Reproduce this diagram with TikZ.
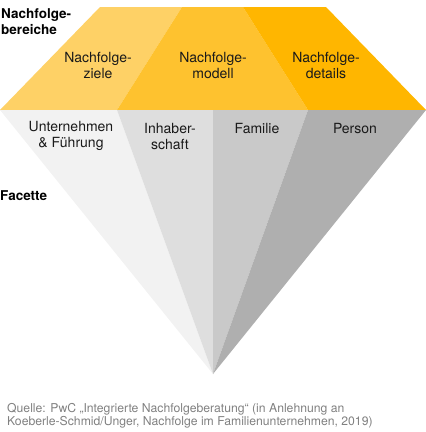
\documentclass[tikz,border=0pt]{standalone}
\usepackage{fontspec}
\setmainfont{TeX Gyre Heros}
\usepackage{xcolor}
\usepackage{tikz}
\usetikzlibrary{positioning}

\definecolor{crownA}{HTML}{FED166}
\definecolor{crownB}{HTML}{FEC22F}
\definecolor{crownC}{HTML}{FFB600}
\definecolor{paviA}{HTML}{F2F2F2}
\definecolor{paviB}{HTML}{DEDEDE}
\definecolor{paviC}{HTML}{C9C9C9}
\definecolor{paviD}{HTML}{AFAFAF}
\definecolor{txt}{HTML}{1A1A1A}
\definecolor{src}{HTML}{808080}

\tikzset{
	facet/.style={inner sep=0pt, align=center, text=txt, font=\fontsize{14}{16}\selectfont},
	head/.style={inner sep=0pt, align=left, anchor=west, text=black, font=\fontsize{13.5}{16}\selectfont\bfseries},
}

\begin{document}
\begin{tikzpicture}[x=1pt, y=-1pt]
		\useasboundingbox (0,0) rectangle (426,432);
		% corners of the stone
		\coordinate (tl) at (100,7);
		\coordinate (ta) at (182,7);
		\coordinate (tb) at (243,7);
		\coordinate (tr) at (326,7);
		\coordinate (gl) at (0,110);
		\coordinate (ga) at (117,110);
		\coordinate (gm) at (213,110);
		\coordinate (gb) at (308,110);
		\coordinate (gr) at (426,110);
		\coordinate (tip) at (213,374);
		% crown
		\fill[crownA] (tl) -- (ta) -- (ga) -- (gl) -- cycle;
		\fill[crownB] (ta) -- (tb) -- (gb) -- (ga) -- cycle;
		\fill[crownC] (tb) -- (tr) -- (gr) -- (gb) -- cycle;
		% pavilion
		\fill[paviA] (gl) -- (ga) -- (tip) -- cycle;
		\fill[paviB] (ga) -- (gm) -- (tip) -- cycle;
		\fill[paviC] (gm) -- (gb) -- (tip) -- cycle;
		\fill[paviD] (gb) -- (gr) -- (tip) -- cycle;
		% labels
		\node[head] (bereiche) at (1,22) {Nachfolge-\\bereiche};
		\node[head] (facette) at (0,196) {Facette};
		\node[facet] (ziele) at (98,65.5) {Nachfolge-\\ziele};
		\node[facet] (modell) at (213,65.5) {Nachfolge-\\modell};
		\node[facet] (details) at (326,65.5) {Nachfolge-\\details};
		\node[facet] (unternehmen) at (71,136) {Unternehmen\\\& Führung};
		\node[facet] (inhaber) at (170,136) {Inhaber-\\schaft};
		\node[facet] (familie) at (257,128) {Familie};
		\node[facet] (person) at (355,128) {Person};
		\node[inner sep=0pt, anchor=west, align=left, text=src, font=\fontsize{12.2}{12.6}\selectfont] (quelle) at (7,416)
			{Quelle: PwC „Integrierte Nachfolgeberatung“ (in Anlehnung an\\Koeberle-Schmid/Unger, Nachfolge im Familienunternehmen, 2019)};
	\end{tikzpicture}
\end{document}
